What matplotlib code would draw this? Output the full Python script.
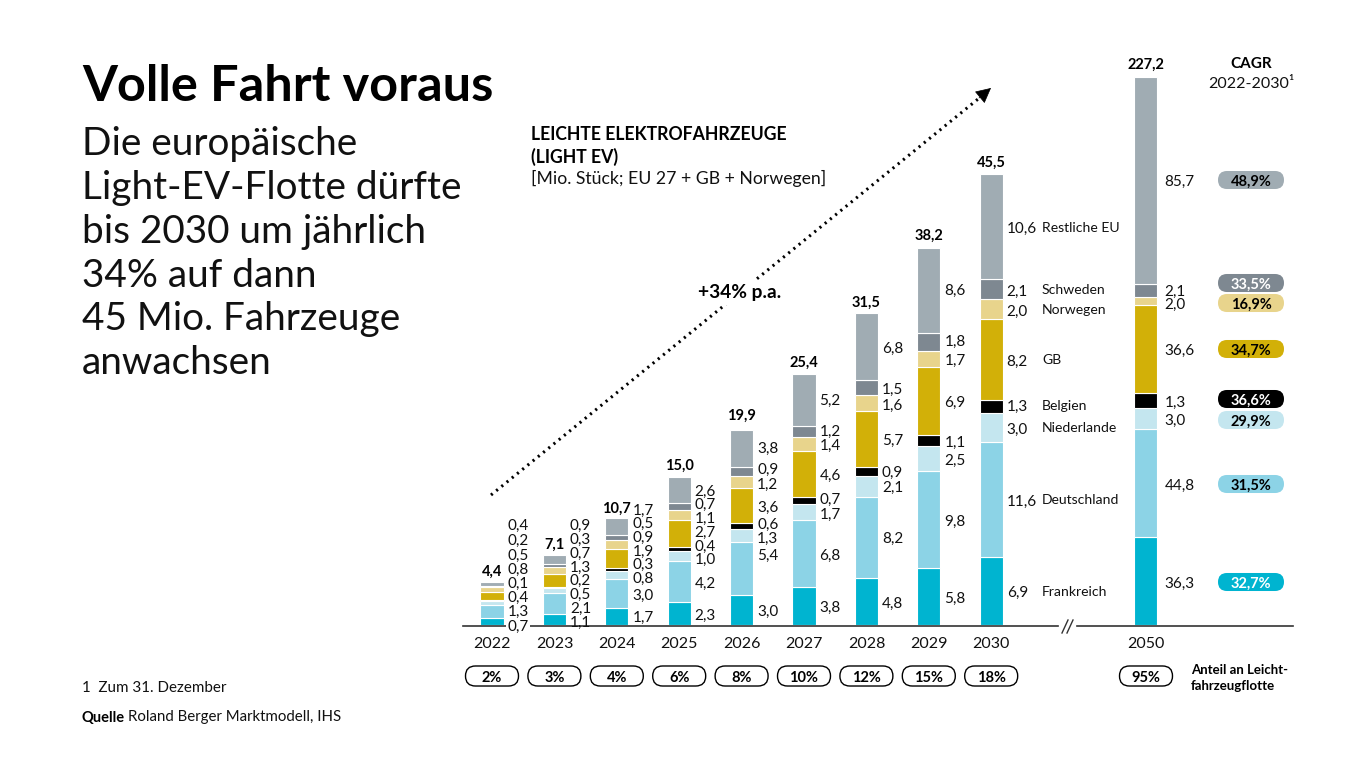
import matplotlib
matplotlib.use("Agg")
import matplotlib.pyplot as plt
from matplotlib.patches import FancyBboxPatch

plt.rcParams['font.family'] = ['Lato', 'DejaVu Sans']

jahre = ["2022", "2023", "2024", "2025", "2026", "2027", "2028", "2029", "2030"]
gesamt = ["4,4", "7,1", "10,7", "15,0", "19,9", "25,4", "31,5", "38,2", "45,5"]
anteil = ["2%", "3%", "4%", "6%", "8%", "10%", "12%", "15%", "18%"]

frankreich = [0.7, 1.1, 1.7, 2.3, 3.0, 3.8, 4.8, 5.8, 6.9]
deutschland = [1.3, 2.1, 3.0, 4.2, 5.4, 6.8, 8.2, 9.8, 11.6]
niederlande = [0.4, 0.5, 0.8, 1.0, 1.3, 1.7, 2.1, 2.5, 3.0]
belgien = [0.1, 0.2, 0.3, 0.4, 0.6, 0.7, 0.9, 1.1, 1.3]
gb = [0.8, 1.3, 1.9, 2.7, 3.6, 4.6, 5.7, 6.9, 8.2]
norwegen = [0.5, 0.7, 0.9, 1.1, 1.2, 1.4, 1.6, 1.7, 2.0]
schweden = [0.2, 0.3, 0.5, 0.7, 0.9, 1.2, 1.5, 1.8, 2.1]
rest_eu = [0.4, 0.9, 1.7, 2.6, 3.8, 5.2, 6.8, 8.6, 10.6]
serien = [frankreich, deutschland, niederlande, belgien, gb, norwegen, schweden, rest_eu]

laender = ["Frankreich", "Deutschland", "Niederlande", "Belgien", "GB", "Norwegen", "Schweden", "Restliche EU"]
farben = ["#00b4d0", "#8cd3e6", "#c4e6ef", "#000000", "#d2b008", "#e8d48c", "#7e8891", "#a0acb3"]

# 2050: gedruckte Werte und die Hoehen wie sie im Bild stehen (passen nicht ganz zusammen)
werte_2050 = ["36,3", "44,8", "3,0", "1,3", "36,6", "2,0", "2,1", "85,7"]
hoehen_2050 = [36.3, 44.8, 8.7, 6.2, 36.6, 3.3, 5.4, 85.7]
gesamt_2050 = "227,2"
anteil_2050 = "95%"

cagr = ["32,7%", "31,5%", "29,9%", "36,6%", "34,7%", "16,9%", "33,5%", "48,9%"]

# Layout in Pixeln
x_start = 492
x_schritt = 62.4
y_null = 625
label_y = [
    [625, 610, 596, 582, 568, 554, 539, 524],
    [621, 607, 593, 579, 566, 552, 538, 524],
    [616, 594, 577, 563, 550, 536, 522, 509],
    [614, 582, 558, 545, 531, 517, 503, 490],
    [610, 554, 537, 523, 506, 483, 468, 447],
    [606, 554, 513, 498, 474, 444, 430, 399],
    [602, 537, 486, 471, 439, 404, 388, 347],
    [597, 520, 459, 441, 401, 359, 340, 289],
    [591, 500, 428, 405, 360, 310, 290, 227],
]
total_y = [570, 543, 507, 464, 414, 361, 301, 234, 161]
land_y = [591, 499, 427, 405, 359, 309, 289, 226]
y_2050 = [582, 484, 419, 401, 349, 303, 290, 180]
pill_y = [582, 484, 420, 399, 349, 303, 283, 180]

fig = plt.figure(figsize=(13.66, 7.68), dpi=100)
B, H = 1366, 768


def achse(x0, x1, y0, y1):
    return fig.add_axes([x0 / B, 1 - y1 / H, (x1 - x0) / B, (y1 - y0) / H])


# Balken 2022-2030
ax = achse(463, 1058, 0, y_null)
ax.set_xlim(-(x_start - 463) / x_schritt, (1058 - x_start) / x_schritt)
ax.set_ylim(0, y_null / 9.87)
ax.axis("off")
unten = [0.0] * len(jahre)
for werte, farbe in zip(serien, farben):
    ax.bar(range(len(jahre)), werte, 0.37, bottom=unten, color=farbe, edgecolor="white", linewidth=0.8)
    unten = [u + w for u, w in zip(unten, werte)]

# Balken 2050, eigener Massstab
ax2 = achse(1120, 1173, 0, y_null)
ax2.set_xlim(-0.5, 0.5)
ax2.set_ylim(0, y_null / 2.416)
ax2.axis("off")
unten = 0.0
for wert, farbe in zip(hoehen_2050, farben):
    ax2.bar(-0.01, wert, 23 / 53, bottom=unten, color=farbe, edgecolor="white", linewidth=0.8)
    unten += wert

# Texte und Rest in Pixelkoordinaten
top = fig.add_axes([0, 0, 1, 1])
top.set_xlim(0, B)
top.set_ylim(H, 0)
top.axis("off")
top.patch.set_alpha(0)


def text(x, y, s, size=10.5, weight="normal", ha="left", color="#111111", **kw):
    return top.text(x, y + 1.5, s, fontsize=size, fontweight=weight, ha=ha, va="center", color=color, **kw)


def pille(xm, ym, b, h, fc, ec="none"):
    r = h / 2
    top.add_patch(FancyBboxPatch((xm - b / 2 + r, ym - 0.01), b - 2 * r, 0.02,
                                 boxstyle="round,pad=%f,rounding_size=%f" % (r, r),
                                 fc=fc, ec=ec, lw=1))


text(82, 85, "Volle Fahrt voraus", size=36.3, weight="bold", color="black")
zeilen = ["Die europäische", "Light-EV-Flotte dürfte", "bis 2030 um jährlich", "34% auf dann",
          "45 Mio. Fahrzeuge", "anwachsen"]
for i, z in enumerate(zeilen):
    text(82, 143 + i * 43.7, z, size=27.9)

text(531, 133, "LEICHTE ELEKTROFAHRZEUGE", size=12.7, weight="bold", color="black")
text(531, 155, "(LIGHT EV)", size=12.7, weight="bold", color="black")
text(531, 177, "[Mio. Stück; EU 27 + GB + Norwegen]", size=12.7)

text(82, 686, "1  Zum 31. Dezember", size=10.9)
text(82, 716, "Quelle", size=10.5, weight="bold", color="black")
text(128, 716, "Roland Berger Marktmodell, IHS", size=10.85)

# Trendpfeil: Punktlinie und Spitze getrennt
top.plot([491, 983], [495, 95], color="black", lw=2.2, linestyle=(0, (0.7, 1.5)))
top.annotate("", xy=(991, 88), xytext=(979, 98),
             arrowprops=dict(arrowstyle="-|>,head_length=0.65,head_width=0.33", color="black", lw=0.5,
                             shrinkA=0, shrinkB=0, mutation_scale=15))
text(740, 291, "+34% p.a.", size=13.8, weight="bold", ha="center", color="black",
     bbox=dict(fc="white", ec="none", pad=3))

# Grundlinie mit Bruch
top.plot([463, 1058], [626, 626], color="#333333", lw=1.2)
top.plot([1077, 1293], [626, 626], color="#333333", lw=1.2)
for dx in (0, 5):
    top.plot([1062 + dx, 1068 + dx], [633, 620], color="#333333", lw=1)

for i, jahr in enumerate(jahre):
    xm = x_start + i * x_schritt
    text(xm, total_y[i], gesamt[i], size=10.5, weight="bold", ha="center", color="black")
    text(xm, 642, jahr, size=11.5, ha="center")
    pille(xm, 676, 53, 20, "white", "black")
    text(xm, 676, anteil[i], size=10.5, weight="bold", ha="center", color="black")
    for j, werte in enumerate(serien):
        s = ("%.1f" % werte[i]).replace(".", ",")
        kw = dict(bbox=dict(fc="white", ec="none", pad=1)) if (i == 0 and j == 0) else {}
        text(xm + 15.5, label_y[i][j], s, size=11, **kw)

for land, y in zip(laender, land_y):
    text(1042, y, land, size=10.1)

text(1146, 63, gesamt_2050, size=10.5, weight="bold", ha="center", color="black")
text(1146, 642, "2050", size=11.5, ha="center")
pille(1146, 676, 53, 20, "white", "black")
text(1146, 676, anteil_2050, size=10.5, weight="bold", ha="center", color="black")
text(1191, 668, "Anteil an Leicht-", size=9.5, weight="bold", color="black")
text(1191, 684, "fahrzeugflotte", size=9.5, weight="bold", color="black")
for s, y in zip(werte_2050, y_2050):
    text(1164.5, y, s, size=11)

text(1251, 63, "CAGR", size=11, weight="bold", ha="center", color="black")
text(1251, 83, "2022-2030¹", size=11.5, ha="center")
weiss = {"32,7%", "36,6%", "33,5%"}
for s, y, farbe in zip(cagr, pill_y, farben):
    pille(1251, y, 66, 18, farbe)
    text(1251, y, s, size=10.5, weight="bold", ha="center", color="white" if s in weiss else "black")

fig.savefig("out.png", dpi=100)
